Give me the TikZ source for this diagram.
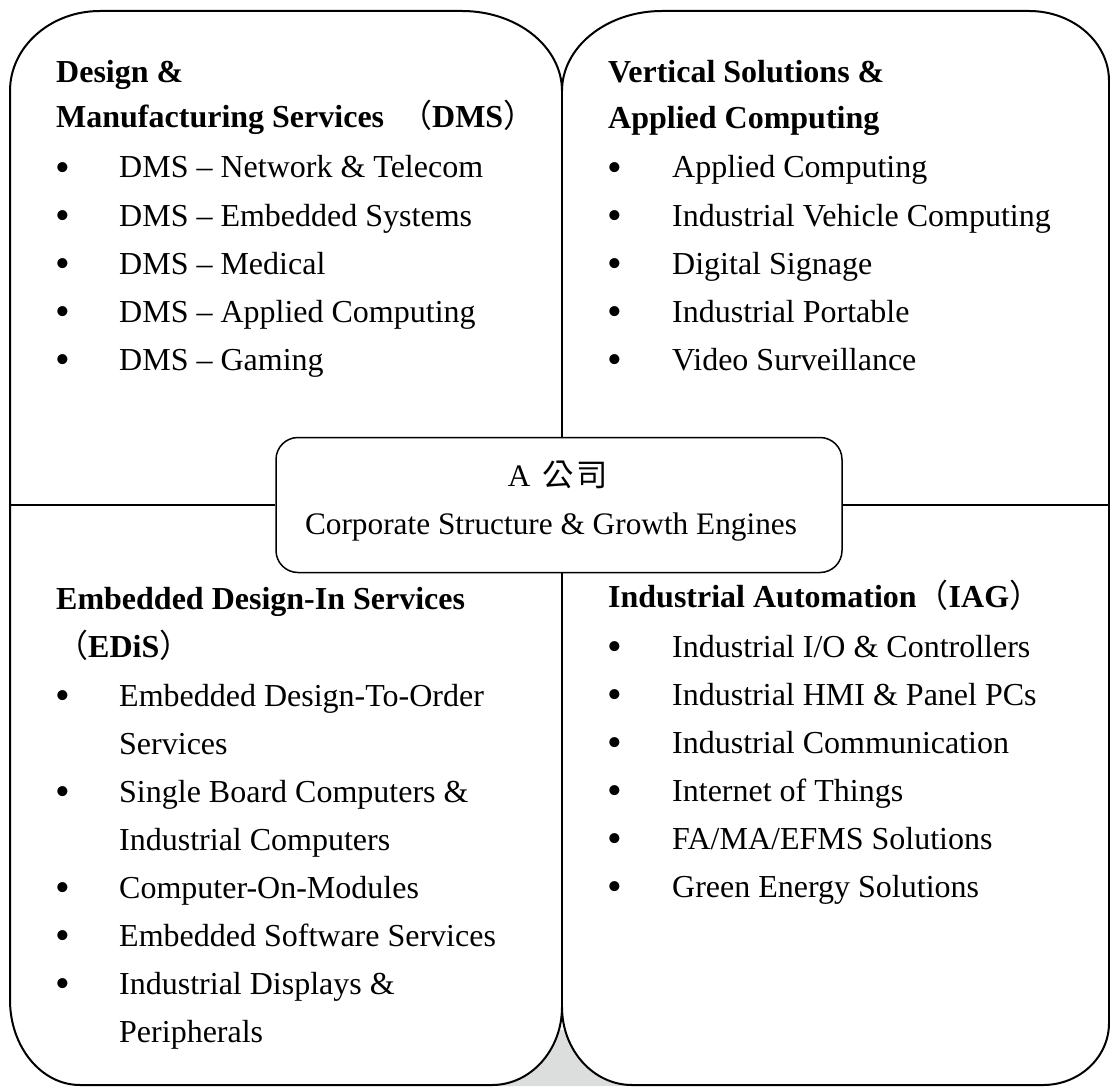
\documentclass[tikz,border=0pt]{standalone}
\usepackage{fontspec}
\setmainfont{Liberation Serif}
\newfontfamily\cjk{Noto Sans CJK TC}
\newcommand\panelfont{\fontsize{32}{48}\selectfont}
\newcommand\corefont{\fontsize{31.3}{48}\selectfont}
\newcommand\bulletfont{\fontsize{42}{48}\selectfont}
\tikzset{
  outline/.style={line width=2pt, black},
  divider/.style={line width=1.5pt, black},
  heading/.style={anchor=base west, inner sep=0pt, font=\panelfont\bfseries},
  entry/.style={anchor=base west, inner sep=0pt, font=\panelfont},
  bulletmark/.style={anchor=base west, inner sep=0pt, font=\bulletfont, yshift=-3.5pt},
}
\definecolor{wmark}{HTML}{DCDDDD}
\begin{document}
\begin{tikzpicture}[x=1pt,y=-1pt]
    \useasboundingbox (0,0) rectangle (1110,1086);

    % the four panels meet at the middle
    \coordinate (midL) at (10,505);
    \coordinate (midR) at (1109,505);
    \coordinate (cuspT) at (562,91);
    \coordinate (cuspB) at (562,1007);

    % grey patch between the two lower panels
    \begin{scope}
        \clip (470,1030) rectangle (660,1086);
        \fill[wmark] (492,1085) arc[start angle=90,end angle=0,x radius=70,y radius=78]
            arc[start angle=180,end angle=90,x radius=70,y radius=78] -- (632,1086) -- (492,1086) -- cycle;
    \end{scope}

    % upper panels
    \draw[outline] (midL) -- (10,91) arc[start angle=180,end angle=270,x radius=90,y radius=80]
        -- (462,11) arc[start angle=270,end angle=360,x radius=100,y radius=80]
        arc[start angle=180,end angle=270,x radius=100,y radius=80]
        -- (1029,11) arc[start angle=270,end angle=360,x radius=80,y radius=70] -- (midR);

    % lower panels
    \draw[outline] (midL) -- (10,1000) arc[start angle=180,end angle=90,x radius=70,y radius=85]
        -- (492,1085) arc[start angle=90,end angle=0,x radius=70,y radius=78]
        arc[start angle=180,end angle=90,x radius=70,y radius=78]
        -- (1043,1085) arc[start angle=90,end angle=0,x radius=66,y radius=62] -- (midR);

    % centre box
    \node[draw, divider, fill=white, rounded corners=22pt, minimum width=566pt, minimum height=135pt, inner sep=0pt] (core) at (559,505) {};
    \node[anchor=base, inner sep=0pt, font=\corefont] (corename) at (558,486) {A\hspace{12pt}{\cjk 公\hspace{3pt}司}};
    \node[anchor=base, inner sep=0pt, font=\corefont] (coresub) at (551,534) {Corporate Structure \& Growth Engines};

    \draw[divider] (midL) -- (core.west);
    \draw[divider] (core.east) -- (midR);
    \draw[divider] (cuspT) -- (cuspT |- core.north);
    \draw[divider] (cuspT |- core.south) -- (cuspB);

    % Design & Manufacturing Services
    \node[heading] (dmsh1) at (56,83) {Design \&};
    \node[heading] (dmsh2) at (56,128) {Manufacturing Services \ {\cjk\mdseries （}DMS{\cjk\mdseries ）}};
    \node[bulletmark] (dmsb1) at (55,178) {•};
    \node[entry] (dms1) at (119,178) {DMS – Network \& Telecom};
    \node[bulletmark] (dmsb2) at (55,226) {•};
    \node[entry] (dms2) at (119,226) {DMS – Embedded Systems};
    \node[bulletmark] (dmsb3) at (55,274) {•};
    \node[entry] (dms3) at (119,274) {DMS – Medical};
    \node[bulletmark] (dmsb4) at (55,322) {•};
    \node[entry] (dms4) at (119,322) {DMS – Applied Computing};
    \node[bulletmark] (dmsb5) at (55,370) {•};
    \node[entry] (dms5) at (119,370) {DMS – Gaming};

    % Vertical Solutions & Applied Computing
    \node[heading] (vsah1) at (608,83) {Vertical Solutions \&};
    \node[heading] (vsah2) at (608,129) {Applied Computing};
    \node[bulletmark] (vsab1) at (607,178) {•};
    \node[entry] (vsa1) at (672,178) {Applied Computing};
    \node[bulletmark] (vsab2) at (607,226) {•};
    \node[entry] (vsa2) at (672,226) {Industrial Vehicle Computing};
    \node[bulletmark] (vsab3) at (607,274) {•};
    \node[entry] (vsa3) at (672,274) {Digital Signage};
    \node[bulletmark] (vsab4) at (607,322) {•};
    \node[entry] (vsa4) at (672,322) {Industrial Portable};
    \node[bulletmark] (vsab5) at (607,370) {•};
    \node[entry] (vsa5) at (672,370) {Video Surveillance};

    % Embedded Design-In Services
    \node[heading] (edish1) at (56,609) {Embedded Design-In Services};
    \node[heading] (edish2) at (56,657) {{\cjk\mdseries （}EDiS{\cjk\mdseries ）}};
    \node[bulletmark] (edisb1) at (55,706) {•};
    \node[entry] (edis1) at (119,706) {Embedded Design-To-Order};
    \node[entry] (edis1b) at (119,754) {Services};
    \node[bulletmark] (edisb2) at (55,802) {•};
    \node[entry] (edis2) at (119,802) {Single Board Computers \&};
    \node[entry] (edis2b) at (119,850) {Industrial Computers};
    \node[bulletmark] (edisb3) at (55,898) {•};
    \node[entry] (edis3) at (119,898) {Computer-On-Modules};
    \node[bulletmark] (edisb4) at (55,946) {•};
    \node[entry] (edis4) at (119,946) {Embedded Software Services};
    \node[bulletmark] (edisb5) at (55,994) {•};
    \node[entry] (edis5) at (119,994) {Industrial Displays \&};
    \node[entry] (edis5b) at (119,1042) {Peripherals};

    % Industrial Automation
    \node[heading] (iagh1) at (608,607) {Industrial Automation{\cjk\mdseries （}IAG{\cjk\mdseries ）}};
    \node[bulletmark] (iagb1) at (607,657) {•};
    \node[entry] (iag1) at (672,657) {Industrial I/O \& Controllers};
    \node[bulletmark] (iagb2) at (607,705) {•};
    \node[entry] (iag2) at (672,705) {Industrial HMI \& Panel PCs};
    \node[bulletmark] (iagb3) at (607,753) {•};
    \node[entry] (iag3) at (672,753) {Industrial Communication};
    \node[bulletmark] (iagb4) at (607,801) {•};
    \node[entry] (iag4) at (672,801) {Internet of Things};
    \node[bulletmark] (iagb5) at (607,849) {•};
    \node[entry] (iag5) at (672,849) {FA/MA/EFMS Solutions};
    \node[bulletmark] (iagb6) at (607,897) {•};
    \node[entry] (iag6) at (672,897) {Green Energy Solutions};
\end{tikzpicture}
\end{document}
